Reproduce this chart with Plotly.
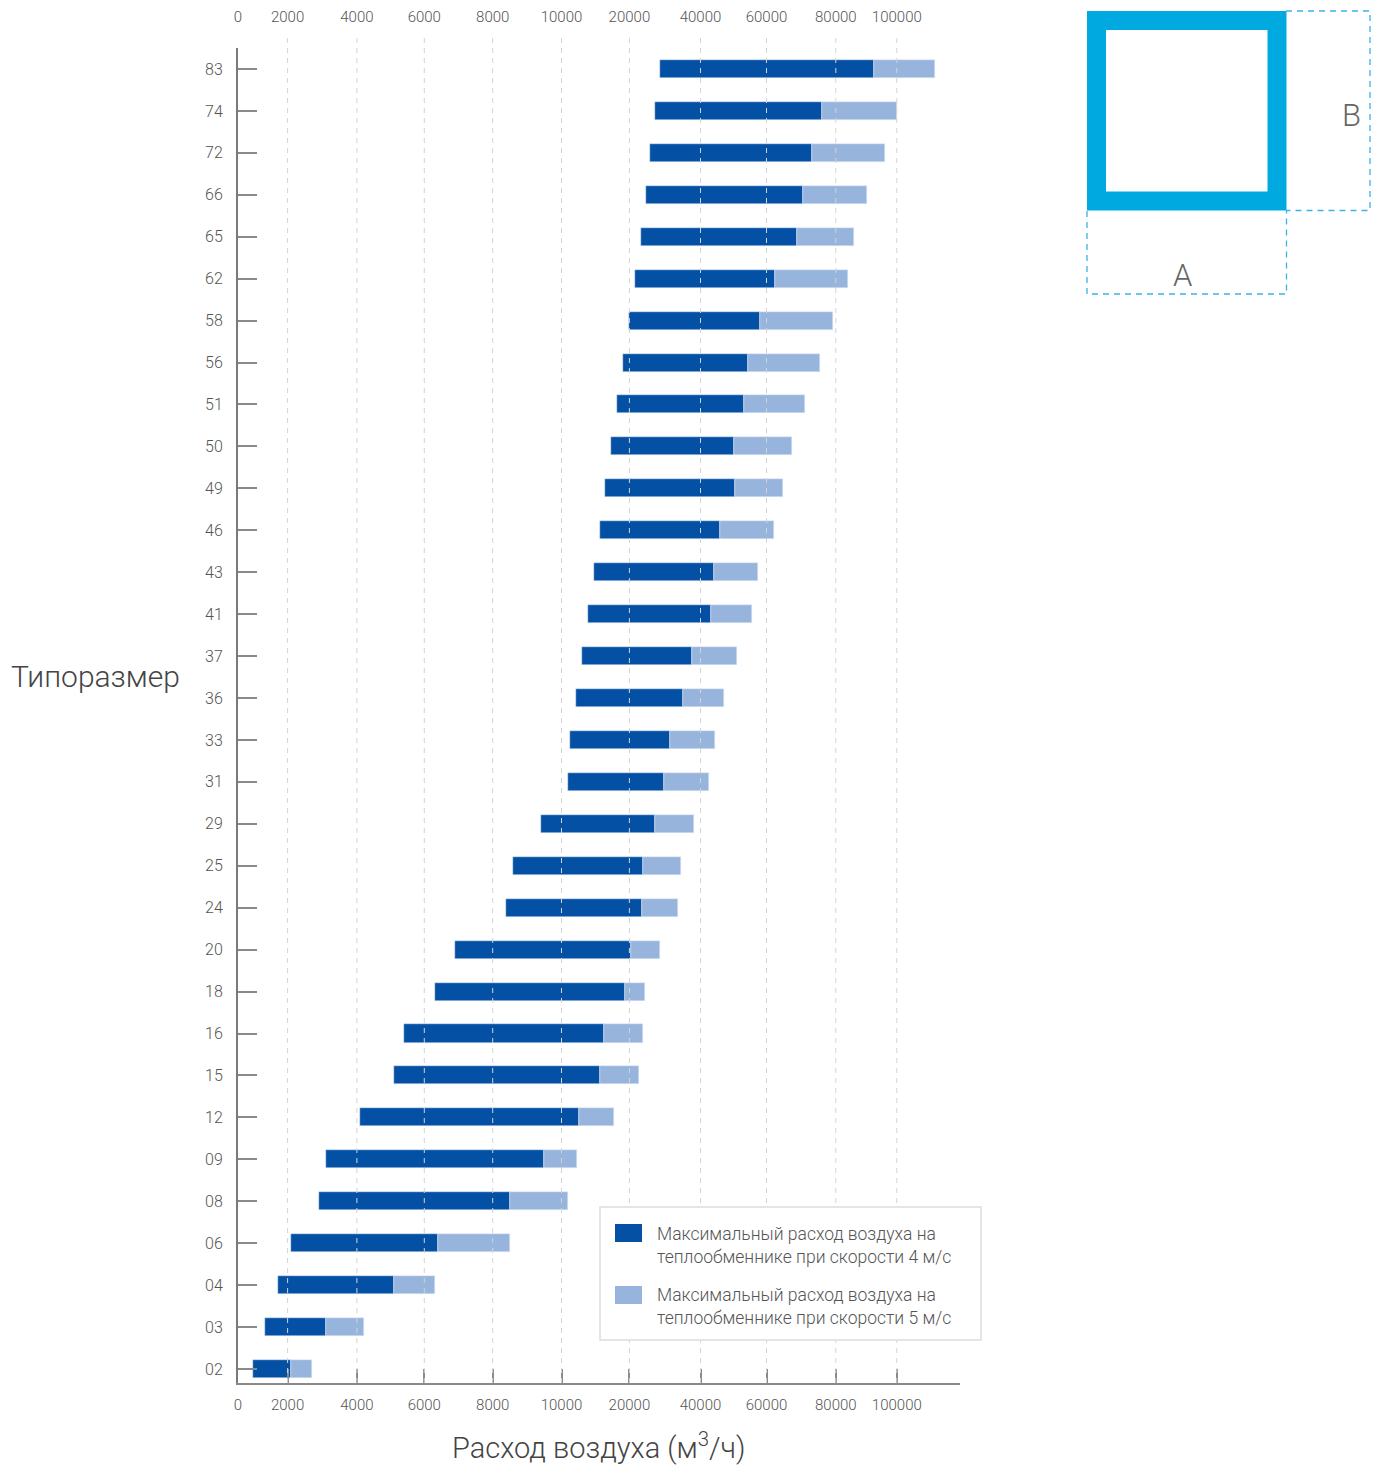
import numpy as np
import plotly.graph_objects as go

# ---------------- data ----------------
SIZES = ["02", "03", "04", "06", "08", "09", "12", "15", "16", "18", "20", "24", "25", "29", "31", "33",
         "36", "37", "41", "43", "46", "49", "50", "51", "56", "58", "62", "65", "66", "72", "74", "83"]
FLOW_MIN = [600, 1100, 1600, 2100, 2900, 3100, 4100, 5100, 5400, 6300, 6900, 8400, 8600, 9400, 10900, 11300,
            12200, 13000, 13900, 14800, 15700, 16400, 17300, 18200, 19100, 20000, 21500, 23200, 24600, 25800, 27200, 28600]
FLOW_4MS = [2100, 3100, 5100, 6400, 8500, 9500, 12600, 15700, 16300, 19300, 20400, 23500, 23900, 27200, 29700, 31400,
            35100, 37500, 43200, 44000, 45800, 50400, 50100, 53200, 54300, 57900, 62400, 68700, 70500, 73100, 75900, 92500]
FLOW_5MS = [2700, 4200, 6300, 8500, 10900, 12300, 17700, 22700, 23900, 24400, 28600, 33700, 34500, 38200, 42500, 44300,
            47100, 51000, 55600, 57400, 62100, 64800, 67300, 71000, 75400, 79100, 83900, 85900, 90100, 96100, 100000, 112500]
TICK_VALUES = [0, 2000, 4000, 6000, 8000, 10000, 20000, 40000, 60000, 80000, 100000]
TICK_LABELS = [str(v) for v in TICK_VALUES]
SERIES_NAMES = ["Максимальный расход воздуха на<br>теплообменнике при скорости 4 м/с",
                "Максимальный расход воздуха на<br>теплообменнике при скорости 5 м/с"]

# ---------------- piecewise (broken) value scale of the chart ----------------
SCALE_DOMAIN = TICK_VALUES + [120000]
SCALE_RANGE = [0, 49.6, 118.9, 186.3, 254.7, 323.5, 391.4, 462.5, 528.5, 597.8, 658.8, 719.8]


def scale(v):
    return np.interp(np.asarray(v, dtype=float), SCALE_DOMAIN, SCALE_RANGE)


W, H = 1384, 1465
ML, MR, MT, MB = 238, 424, 48, 82
PW, PH = W - ML - MR, H - MT - MB


def px(x):
    return (x - ML) / PW


def py(y):
    return (H - MB - y) / PH


DARK = "#0450A4"
LIGHT = "#97B4DD"
TXT = "#555555"
FONT = "Roboto"

smin, s4, s5 = scale(FLOW_MIN), scale(FLOW_4MS), scale(FLOW_5MS)

fig = go.Figure()
fig.add_trace(go.Bar(y=SIZES, x=s4 - smin, base=smin, orientation="h", marker_color=DARK,
                     width=0.43, name=SERIES_NAMES[0], showlegend=False,
                     customdata=np.column_stack([FLOW_MIN, FLOW_4MS]),
                     hovertemplate="%{y}: %{customdata[0]} – %{customdata[1]}<extra></extra>"))
fig.add_trace(go.Bar(y=SIZES, x=s5 - s4, base=s4, orientation="h", marker_color=LIGHT,
                     width=0.43, name=SERIES_NAMES[1], showlegend=False,
                     customdata=np.column_stack([FLOW_4MS, FLOW_5MS]),
                     hovertemplate="%{y}: %{customdata[0]} – %{customdata[1]}<extra></extra>"))
fig.add_trace(go.Scatter(x=[0], y=[SIZES[0]], xaxis="x2", mode="markers", marker=dict(opacity=0),
                         showlegend=False, hoverinfo="skip"))

tickpos = scale(TICK_VALUES)
shapes = []
# dashed gridlines drawn above bars
for t in tickpos[1:]:
    shapes.append(dict(type="line", xref="x", yref="paper", x0=t, x1=t, y0=0, y1=py(37),
                       line=dict(color="#d3d3d3", width=1, dash="5px,5px"), layer="above"))

# custom legend
shapes.append(dict(type="rect", xref="paper", yref="paper", x0=px(600), x1=px(981), y0=py(1340), y1=py(1207),
                   line=dict(color="#dddddd", width=1.5), fillcolor="white", layer="above"))
shapes.append(dict(type="rect", xref="paper", yref="paper", x0=px(615), x1=px(642), y0=py(1242), y1=py(1224),
                   line=dict(width=0), fillcolor=DARK, layer="above"))
shapes.append(dict(type="rect", xref="paper", yref="paper", x0=px(615), x1=px(642), y0=py(1304), y1=py(1286),
                   line=dict(width=0), fillcolor=LIGHT, layer="above"))

# cross-section icon
ICON = "#00A9E0"
shapes.append(dict(type="rect", xref="paper", yref="paper", x0=px(1096.5), x1=px(1277), y0=py(201), y1=py(20.5),
                   line=dict(color=ICON, width=19), fillcolor="rgba(0,0,0,0)"))
dash_line = dict(color="#3BB3E6", width=1.3, dash="6px,5px")
shapes.append(dict(type="path", xref="paper", yref="paper",
                   path=f"M {px(1286)} {py(11)} L {px(1370)} {py(11)} L {px(1370)} {py(210.5)} L {px(1286)} {py(210.5)}",
                   line=dash_line))
shapes.append(dict(type="path", xref="paper", yref="paper",
                   path=f"M {px(1087)} {py(211)} L {px(1087)} {py(294)} L {px(1286.5)} {py(294)} L {px(1286.5)} {py(211)}",
                   line=dash_line))

annotations = [
    dict(text="Типоразмер", xref="paper", yref="paper", x=px(9), y=py(676), xanchor="left", yanchor="middle",
         showarrow=False, font=dict(family=FONT, size=30, color="#444444", weight=300)),
    dict(text="Расход воздуха (м<sup>3</sup>/ч)", xref="paper", yref="paper", x=px(598), y=py(1446),
         xanchor="center", yanchor="middle", showarrow=False,
         font=dict(family=FONT, size=29, color="#444444", weight=300)),
    dict(text=SERIES_NAMES[0], xref="paper", yref="paper", x=px(655), y=py(1245), xanchor="left",
         yanchor="middle", align="left", showarrow=False, font=dict(family=FONT, size=17.5, color=TXT, weight=300)),
    dict(text=SERIES_NAMES[1], xref="paper", yref="paper", x=px(655), y=py(1306.5), xanchor="left",
         yanchor="middle", align="left", showarrow=False, font=dict(family=FONT, size=17.5, color=TXT, weight=300)),
    dict(text="B", xref="paper", yref="paper", x=px(1351), y=py(115), xanchor="center", yanchor="middle",
         showarrow=False, font=dict(family=FONT, size=31, color="#666666", weight=300)),
    dict(text="A", xref="paper", yref="paper", x=px(1182), y=py(275), xanchor="center", yanchor="middle",
         showarrow=False, font=dict(family=FONT, size=31, color="#666666", weight=300)),
]

tickfont = dict(family=FONT, size=15, color=TXT, weight=300)
fig.update_layout(
    width=W, height=H, margin=dict(l=ML, r=MR, t=MT, b=MB, autoexpand=False),
    paper_bgcolor="white", plot_bgcolor="white", barmode="overlay", bargap=0,
    font=dict(family=FONT, color=TXT),
    xaxis=dict(range=[0, PW], tickvals=tickpos, ticktext=TICK_LABELS, showgrid=False, zeroline=False,
               showline=True, linecolor="#8a8a8a", linewidth=2, ticks="inside", ticklen=14, tickcolor="#8a8a8a",
               tickwidth=1.5, tickfont=tickfont, ticklabelstandoff=7, automargin=False),
    xaxis2=dict(range=[0, PW], overlaying="x", side="top", tickvals=tickpos, ticktext=TICK_LABELS,
                showgrid=False, zeroline=False, showline=False, ticks="", tickfont=tickfont,
                ticklabelstandoff=22, automargin=False),
    yaxis=dict(type="category", categoryorder="array", categoryarray=SIZES, range=[-0.334, 31.5],
               showgrid=False, zeroline=False, showline=True, linecolor="#7a7a7a", linewidth=2,
               ticks="inside", ticklen=19, tickcolor="#8a8a8a", tickwidth=1.5, automargin=False,
               tickfont=dict(family=FONT, size=16, color=TXT, weight=300), ticklabelstandoff=10),
    shapes=shapes, annotations=annotations,
)

fig.write_html("out.html", config={"displayModeBar": False},
               post_script="document.body.style.margin='0';document.body.style.overflow='hidden';")
